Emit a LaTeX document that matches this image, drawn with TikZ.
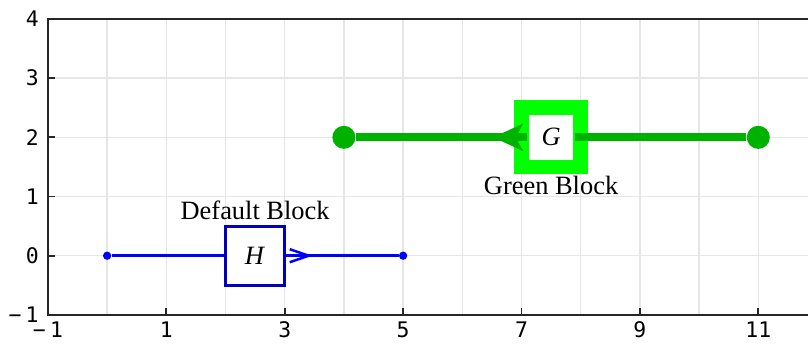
\documentclass[tikz,border=0pt]{standalone}
\usepackage{fontspec}
\setmainfont{Liberation Serif}
\setmonofont{DejaVu Sans Mono}
\usetikzlibrary{positioning,arrows.meta}
\definecolor{gridgray}{RGB}{230,230,230}
\definecolor{hborder}{RGB}{0,0,190}
\definecolor{gline}{RGB}{0,178,0}
\definecolor{gbright}{RGB}{0,255,0}
\begin{document}
\begin{tikzpicture}[x=1cm,y=1cm,font=\fontsize{12.7}{15}\selectfont,
    gridline/.style={draw=gridgray,line width=0.7pt},
    spine/.style={draw=black!85,line width=0.9pt},
    ticklabel/.style={font=\fontsize{10.3}{12}\selectfont\ttfamily,inner sep=0pt},
    hwire/.style={draw=blue,line width=1.2pt},
    gwire/.style={draw=gline,line width=3.9pt},
    hblock/.style={draw=hborder,fill=white,line width=1.4pt,minimum size=1cm,
      inner sep=0pt},
    gblock/.style={draw=gbright,fill=white,line width=7.1pt,minimum size=1cm,
      inner sep=0pt},
    hdot/.style={circle,fill=blue,minimum size=0.14cm,inner sep=0pt},
    gdot/.style={circle,fill=gline,minimum size=0.39cm,inner sep=0pt},
    blocklabel/.style={inner sep=2pt}]
  \useasboundingbox (-1.81,-1.49) rectangle (11.84,4.32);
  \foreach \x in {0,...,11} \draw[gridline] (\x,-1) -- (\x,4);
  \foreach \y in {0,...,3} \draw[gridline] (-1,\y) -- (11.84,\y);
  \draw[spine] (11.84,4) -- (-1,4) -- (-1,-1) -- (11.84,-1);
  \foreach \x/\t in {-1/{−\kern0.2em 1},1/1,3/3,5/5,7/7,9/9,11/11} {
    \draw[spine] (\x,-1) -- ++(0,0.12);
    \node[ticklabel] (xt\x) at (\x,-1.25) {\t};
  }
  \foreach \y/\t in {-1/{−\kern0.2em 1},0/0,1/1,2/2,3/3,4/4} {
    \draw[spine] (-1,\y) -- ++(0.12,0);
    \node[ticklabel,anchor=east] (yt\y) at (-1.15,\y) {\t};
  }
  \node[hblock] (H) at (2.5,0) {\textit{H}};
  \node[blocklabel,above=0pt of H] (hLabel) {Default Block};
  \node[hdot] (hIn) at (0,0) {};
  \node[hdot] (hOut) at (5,0) {};
  \coordinate (hTip) at (3.47,0);
  \draw[hwire] (hIn) -- (H);
  \draw[hwire] (H) -- (hOut);
  \draw[hwire,-{Straight Barb[length=0.32cm,width=0.22cm]}] (H) -- (hTip);
  \node[gblock] (G) at (7.5,2) {\textit{G}};
  \node[blocklabel,below=-1.5pt of G] (gLabel) {Green Block};
  \node[gdot] (gIn) at (4,2) {};
  \node[gdot] (gOut) at (11,2) {};
  \coordinate (gTip) at (6.52,2);
  \draw[gwire,shorten <=0.4cm] (G.center) -- (gOut);
  \draw[gwire,shorten <=0.4cm] (G.center) -- (gIn);
  \draw[gwire,shorten <=0.4cm,-{Stealth[length=0.5cm,width=0.45cm,inset=0.12cm]}]
    (G.center) -- (gTip);
\end{tikzpicture}
\end{document}
